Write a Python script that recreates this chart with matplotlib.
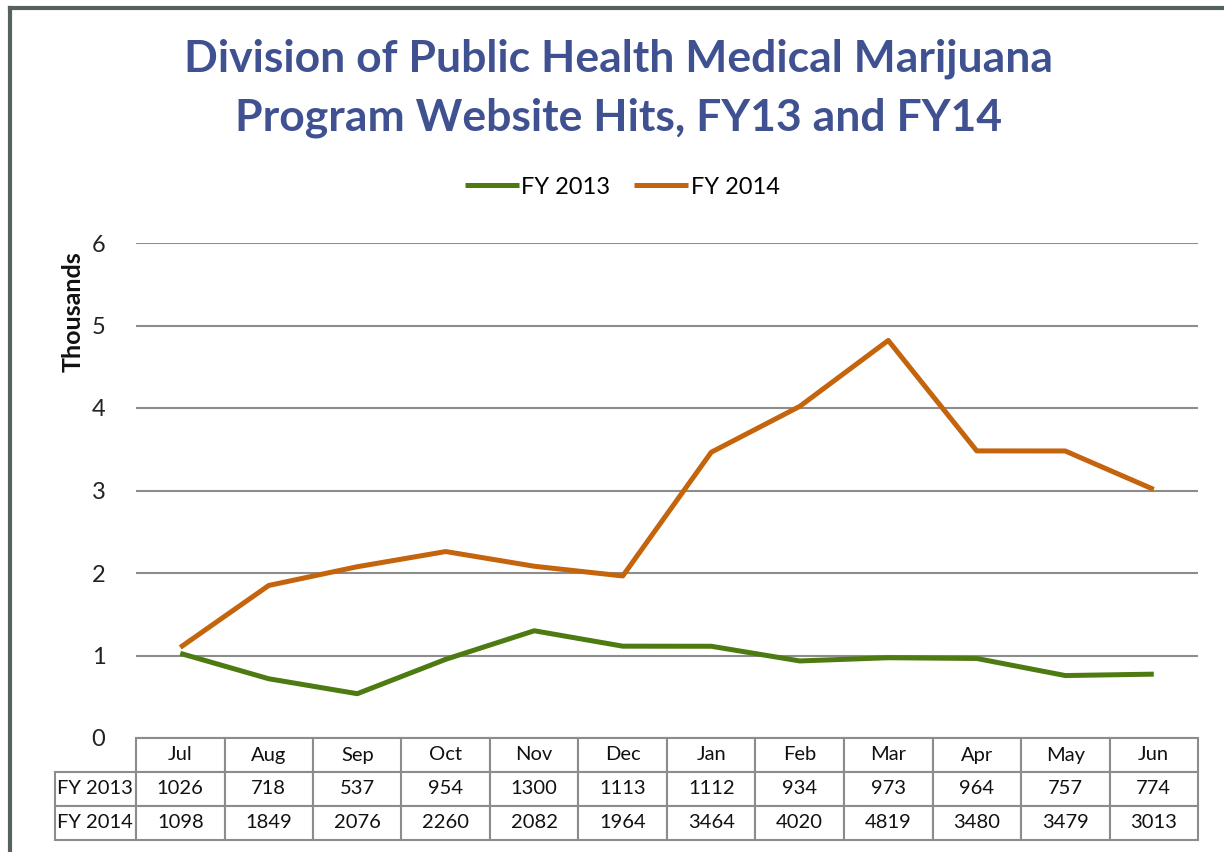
import matplotlib
matplotlib.use("Agg")
import matplotlib.pyplot as plt
from matplotlib.lines import Line2D
import numpy as np

plt.rcParams['font.family'] = ['Lato', 'DejaVu Sans']

# data
months = ["Jul", "Aug", "Sep", "Oct", "Nov", "Dec", "Jan", "Feb", "Mar", "Apr", "May", "Jun"]
series_names = ["FY 2013", "FY 2014"]
fy2013 = [1026, 718, 537, 954, 1300, 1113, 1112, 934, 973, 964, 757, 774]
fy2014 = [1098, 1849, 2076, 2260, 2082, 1964, 3464, 4020, 4819, 3480, 3479, 3013]
y_ticks = [0, 1, 2, 3, 4, 5, 6]

green = "#4E7A12"
orange = "#C4640C"
title_col = "#3F5190"
grid_col = "#8C8C8C"

W, H = 1224, 852
fig = plt.figure(figsize=(W / 100, H / 100), dpi=100)

# axes placed in pixel terms
left, right, top, bottom = 136, 1198, 243, 738
ax = fig.add_axes([left / W, 1 - bottom / H, (right - left) / W, (bottom - top) / H])

x = np.arange(len(months))
ax.plot(x, np.array(fy2013) / 1000, color=green, lw=3.6, solid_capstyle='butt', label=series_names[0])
ax.plot(x, np.array(fy2014) / 1000, color=orange, lw=3.6, solid_capstyle='butt', label=series_names[1])

ax.set_xlim(-0.5, len(months) - 0.5)
ax.set_ylim(0, 6)
ax.set_yticks(y_ticks)
ax.set_yticklabels([str(t) for t in y_ticks], fontsize=17, color="#222222")
ax.tick_params(axis='y', length=0, pad=22)
ax.set_xticks([])
ax.yaxis.grid(True, color=grid_col, lw=1.5)
ax.set_axisbelow(True)
for s in ax.spines.values():
    s.set_visible(False)

# data table under the plot (first column holds the series names)
rows = [[series_names[0]] + [str(v) for v in fy2013],
        [series_names[1]] + [str(v) for v in fy2014]]
label_w = 81 / 1062
tbl = ax.table(cellText=rows, colLabels=[""] + months,
               colWidths=[label_w] + [1 / len(months)] * len(months),
               cellLoc='center',
               bbox=[-label_w, -102 / 495, 1 + label_w, 102 / 495])
tbl.auto_set_font_size(False)
for (r, c), cell in tbl.get_celld().items():
    cell.set_edgecolor(grid_col)
    cell.set_linewidth(1.5)
    cell.get_text().set_fontsize(14.5)
    cell.get_text().set_color("#111111")
    if c == 0:
        cell.get_text().set_ha('left')
        cell.PAD = 0.03
    if r == 0 and c == 0:
        cell.visible_edges = ''

# y label
fig.text(73 / W, 1 - 312 / H, "Thousands", rotation=90, ha='center', va='center',
         fontsize=18, fontweight='bold', color="#111111")

# title
fig.text(619 / W, 1 - 59 / H, "Division of Public Health Medical Marijuana",
         ha='center', va='center', fontsize=32, fontweight='bold', color=title_col)
fig.text(619 / W, 1 - 118 / H, "Program Website Hits, FY13 and FY14",
         ha='center', va='center', fontsize=32, fontweight='bold', color=title_col)

# legend
fig.legend(loc='center', bbox_to_anchor=(622 / W, 1 - 187 / H), ncol=2, frameon=False,
           fontsize=17, handlelength=2.3, handletextpad=0.1, columnspacing=1.0)

# outer frame (cut off at right and bottom)
fig.add_artist(Line2D([10 / W, 10 / W], [0, 1 - 8 / H], color="#566262", lw=3, transform=fig.transFigure))
fig.add_artist(Line2D([10 / W, 1], [1 - 8 / H, 1 - 8 / H], color="#566262", lw=3, transform=fig.transFigure))

fig.savefig("out.png", dpi=100)
